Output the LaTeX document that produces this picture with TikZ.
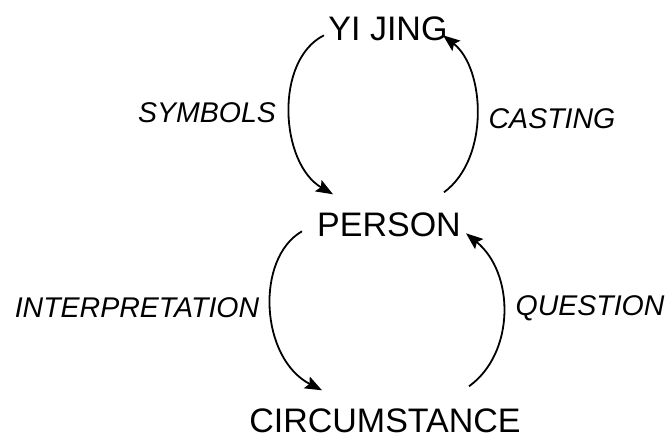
\documentclass[tikz,border=0pt]{standalone}
\usepackage{fontspec}
\setmainfont{Liberation Sans}
\usetikzlibrary{arrows.meta,calc}
\begin{document}
\begin{tikzpicture}[x=1pt,y=-1pt,
  title/.style={anchor=base,inner sep=0pt,font=\fontsize{34}{40}\selectfont},
  lbl/.style={anchor=base,inner sep=0pt,font=\fontsize{28.5}{34}\selectfont\itshape},
  arc/.style={line width=1.8pt,-{Stealth[length=17pt,width=13pt,inset=3pt]}}]
\useasboundingbox (0,0) rectangle (670,439);
% the three stations
\node[title] (yi) at (388,41) {YI JING};
\node[title] (person) at (389,236) {PERSON};
\node[title] (circ) at (385,432) {CIRCUMSTANCE};
% arc labels
\node[lbl] (symbols) at (207,122) {SYMBOLS};
\node[lbl] (casting) at (552,128) {CASTING};
\node[lbl] (interp) at (137,317) {INTERPRETATION};
\node[lbl] (question) at (590,315) {QUESTION};
% upper loop
\draw[arc] ($(yi)+(-64,6)$) .. controls ($(yi)+(-114,31)$) and ($(person)+(-109,-61)$) .. ($(person)+(-56,-30)$);
\draw[arc] ($(person)+(55,-32)$) .. controls ($(person)+(101,-66)$) and ($(yi)+(97,39)$) .. ($(yi)+(55,6)$);
% lower loop
\draw[arc] ($(person)+(-87,7)$) .. controls ($(person)+(-134,34)$) and ($(circ)+(-125,-62)$) .. ($(circ)+(-63,-30)$);
\draw[arc] ($(circ)+(84,-34)$) .. controls ($(circ)+(130,-67)$) and ($(person)+(126,49)$) .. ($(person)+(77,9)$);
\end{tikzpicture}
\end{document}
